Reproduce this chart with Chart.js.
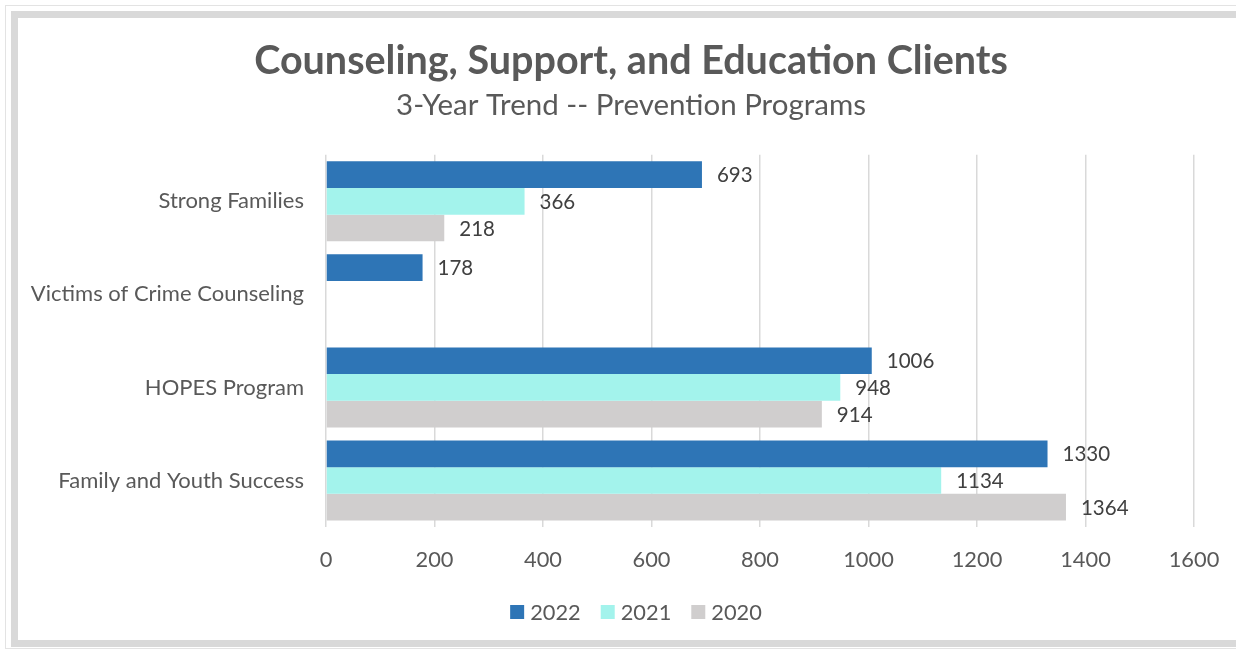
<!DOCTYPE html>
<html>
<head>
<meta charset="utf-8">
<script src="https://cdn.jsdelivr.net/npm/chart.js@4.4.1/dist/chart.umd.min.js"></script>
<style>
  html, body { margin: 0; padding: 0; background: #fff; width: 1236px; height: 653px; overflow: hidden; }
  #outer { position: absolute; left: 5px; top: 5px; width: 1300px; height: 644px; border: 1px solid #e3e3e3; box-sizing: border-box; }
  #band { position: absolute; left: 11px; top: 11px; width: 1300px; height: 636px; border: 7px solid #d9d9d9; box-sizing: border-box; }
  #wrap { position: absolute; left: 19px; top: 19px; width: 1224px; height: 614px; }
</style>
</head>
<body>
<div id="outer"></div>
<div id="band"></div>
<div id="wrap"><canvas id="c" width="1224" height="614"></canvas></div>
<script>
const categories = ["Strong Families", "Victims of Crime Counseling", "HOPES Program", "Family and Youth Success"];
const values2022 = [693, 178, 1006, 1330];
const values2021 = [366, null, 948, 1134];
const values2020 = [218, null, 914, 1364];
const seriesNames = ["2022", "2021", "2020"];
const xTicks = [0, 200, 400, 600, 800, 1000, 1200, 1400, 1600];

const FONT = "Lato, 'Open Sans', sans-serif";

const valueLabels = {
  id: 'valueLabels',
  afterDatasetsDraw(chart) {
    const ctx = chart.ctx;
    ctx.save();
    ctx.font = "20.5px " + FONT;
    ctx.fillStyle = "#404040";
    ctx.textAlign = "left";
    ctx.textBaseline = "middle";
    chart.data.datasets.forEach((ds, i) => {
      const meta = chart.getDatasetMeta(i);
      meta.data.forEach((bar, j) => {
        const v = ds.data[j];
        if (v === null || v === undefined) return;
        ctx.fillText(String(v), bar.x + 15, bar.y + 1);
      });
    });
    ctx.restore();
  }
};

// Excel-style legend: 14px square, 6px gap, 20px between items
const bottomLegend = {
  id: 'bottomLegend',
  afterDraw(chart) {
    const ctx = chart.ctx;
    ctx.save();
    ctx.font = "21.8px " + FONT;
    ctx.textBaseline = "middle";
    ctx.textAlign = "left";
    const box = 14, gap = 6, spacing = 20;
    const items = chart.data.datasets.map(ds => ({ text: ds.label, color: ds.backgroundColor, w: ctx.measureText(ds.label).width }));
    const total = items.reduce((s, it) => s + box + gap + it.w, 0) + spacing * (items.length - 1);
    let x = chart.width / 2 + 5 - total / 2;
    const cy = 593;
    items.forEach(it => {
      ctx.fillStyle = it.color;
      ctx.fillRect(x, cy - box / 2, box, box);
      ctx.fillStyle = '#595959';
      ctx.fillText(it.text, x + box + gap, cy + 1);
      x += box + gap + it.w + spacing;
    });
    ctx.restore();
  }
};

new Chart(document.getElementById('c'), {
  type: 'bar',
  data: {
    labels: categories,
    datasets: [
      { label: seriesNames[0], data: values2022, backgroundColor: '#2E75B6' },
      { label: seriesNames[1], data: values2021, backgroundColor: '#A3F3EC' },
      { label: seriesNames[2], data: values2020, backgroundColor: '#D0CECE' }
    ]
  },
  options: {
    indexAxis: 'y',
    responsive: false,
    animation: false,
    devicePixelRatio: 1,
    layout: { padding: { left: 0, right: 0, top: 0, bottom: 58 } },
    datasets: { bar: { barPercentage: 1.0, categoryPercentage: 0.86 } },
    scales: {
      x: {
        min: 0, max: 1600,
        afterBuildTicks: (s) => { s.ticks = xTicks.map(v => ({ value: v })); },
        afterFit: (s) => { s.height = 48; },
        grid: { color: '#d9d9d9', lineWidth: 1.5, drawTicks: false },
        border: { display: false },
        ticks: {
          color: '#595959', font: { family: FONT, size: 21.8 }, padding: 20,
          callback: (v) => String(v)
        }
      },
      y: {
        afterFit: (s) => { s.width = 307; },
        grid: { display: false, drawTicks: false },
        border: { display: false },
        ticks: { color: '#595959', font: { family: FONT, size: 22 }, padding: 22 }
      },
      yRight: {
        type: 'category',
        position: 'right',
        display: true,
        afterFit: (s) => { s.width = 49; },
        grid: { display: false, drawTicks: false },
        border: { display: false },
        ticks: { display: false }
      }
    },
    plugins: {
      title: {
        display: true,
        text: 'Counseling, Support, and Education Clients',
        color: '#595959',
        font: { family: FONT, size: 39.5, weight: 'bold' },
        padding: { top: 19, bottom: 0 }
      },
      subtitle: {
        display: true,
        text: '3-Year Trend -- Prevention Programs',
        color: '#595959',
        font: { family: FONT, size: 29.5 },
        padding: { top: 2, bottom: 32 }
      },
      legend: { display: false },
      tooltip: { enabled: false }
    }
  },
  plugins: [valueLabels, bottomLegend]
});
</script>
</body>
</html>
